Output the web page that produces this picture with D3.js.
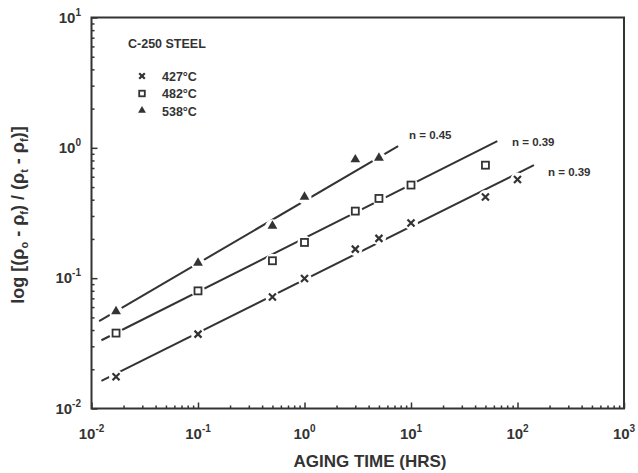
<!DOCTYPE html>
<html>
<head>
<meta charset="utf-8">
<script src="https://cdn.jsdelivr.net/npm/d3@7"></script>
<style>
  body { margin: 0; background: #fff; }
  svg text { font-family: "Liberation Sans", Arial, sans-serif; font-weight: bold; fill: #333; }
</style>
</head>
<body>
<svg id="chart" width="638" height="473"></svg>
<script>
// aging data
const times427 = [0.017, 0.1, 0.5, 1, 3, 5, 10, 50, 100];
const vals427 = [0.0175, 0.0372, 0.0718, 0.0995, 0.167, 0.202, 0.265, 0.42, 0.571];
const times482 = [0.017, 0.1, 0.5, 1, 3, 5, 10, 50];
const vals482 = [0.0379, 0.0799, 0.136, 0.188, 0.327, 0.409, 0.518, 0.736];
const times538 = [0.017, 0.1, 0.5, 1, 3, 5];
const vals538 = [0.055, 0.130, 0.25, 0.416, 0.806, 0.83];

// fitted lines (end points)
const fitTimes427 = [0.0124, 142.6];
const fitVals427 = [0.0163, 0.736];
const fitTimes482 = [0.0124, 64.6];
const fitVals482 = [0.0334, 1.125];
const fitTimes538 = [0.0118, 7.57];
const fitVals538 = [0.0468, 1.03];

const seriesNames = ["427°C", "482°C", "538°C"];
const slopeLabels = ["n = 0.39", "n = 0.39", "n = 0.45"];

const xTicks = [0.01, 0.1, 1, 10, 100, 1000];
const yTicks = [0.01, 0.1, 1, 10];

const ink = "#333";
const svg = d3.select("#chart");

const x = d3.scaleLog().domain([0.01, 1000]).range([91.5, 624]);
const y = d3.scaleLog().domain([0.01, 10]).range([408.5, 17.5]);

// minor ticks 2..9 per decade
function minors(lo, hi) {
    let out = [];
    for (let e = lo; e < hi; e++) {
        for (let k = 2; k <= 9; k++) out.push(k * Math.pow(10, e));
    }
    return out;
}

// frame
svg.append("rect")
    .attr("x", x(0.01)).attr("y", y(10))
    .attr("width", x(1000) - x(0.01))
    .attr("height", y(0.01) - y(10))
    .attr("fill", "none").attr("stroke", ink).attr("stroke-width", 2);

// axes (inside ticks)
const xMinor = svg.append("g").attr("transform", `translate(0,${y(0.01)})`)
    .call(d3.axisBottom(x).tickValues(minors(-2, 3)).tickSize(-3).tickFormat(""));
const xMajor = svg.append("g").attr("transform", `translate(0,${y(0.01)})`)
    .call(d3.axisBottom(x).tickValues(xTicks).tickSize(-6).tickFormat(""));
const yMinor = svg.append("g").attr("transform", `translate(${x(0.01)},0)`)
    .call(d3.axisLeft(y).tickValues(minors(-2, 1)).tickSize(-3).tickFormat(""));
const yMajor = svg.append("g").attr("transform", `translate(${x(0.01)},0)`)
    .call(d3.axisLeft(y).tickValues(yTicks).tickSize(-6).tickFormat(""));

[xMinor, xMajor, yMinor, yMajor].forEach(g => {
    g.select(".domain").remove();
    g.selectAll("line").attr("stroke", ink).attr("stroke-width", 1.5);
});

// power-of-ten labels
function powLabel(sel, v) {
    const e = Math.round(Math.log10(v));
    sel.append("tspan").text("10");
    sel.append("tspan").attr("dy", -7).attr("font-size", 10).text(e < 0 ? "-" + (-e) : e);
}

xTicks.forEach(v => {
    const t = svg.append("text")
        .attr("x", x(v)).attr("y", 439)
        .attr("text-anchor", "middle").attr("font-size", 15);
    powLabel(t, v);
});
yTicks.forEach(v => {
    const t = svg.append("text")
        .attr("x", 81).attr("y", y(v) + 5)
        .attr("text-anchor", "end").attr("font-size", 15);
    powLabel(t, v);
});

// axis titles
svg.append("text")
    .attr("x", 370).attr("y", 467)
    .attr("text-anchor", "middle").attr("font-size", 17)
    .text("AGING TIME (HRS)");

const yt = svg.append("text")
    .attr("transform", "translate(24,215) rotate(-90)")
    .attr("text-anchor", "middle").attr("font-size", 18);
yt.append("tspan").text("log [(ρ");
yt.append("tspan").attr("font-size", 11).attr("dy", 4).text("o");
yt.append("tspan").attr("dy", -4).text(" - ρ");
yt.append("tspan").attr("font-size", 11).attr("dy", 4).text("f");
yt.append("tspan").attr("dy", -4).text(") / (ρ");
yt.append("tspan").attr("font-size", 11).attr("dy", 4).text("t");
yt.append("tspan").attr("dy", -4).text(" - ρ");
yt.append("tspan").attr("font-size", 11).attr("dy", 4).text("f");
yt.append("tspan").attr("dy", -4).text(")]");

// fitted lines
const fits = [
    [fitTimes427, fitVals427],
    [fitTimes482, fitVals482],
    [fitTimes538, fitVals538]
];
const line = d3.line().x(d => x(d[0])).y(d => y(d[1]));
fits.forEach(f => {
    svg.append("path")
        .attr("d", line(d3.zip(f[0], f[1])))
        .attr("fill", "none").attr("stroke", ink).attr("stroke-width", 2);
});

// markers
function drawMarker(g, kind, cx, cy, s) {
    if (kind === 0) {
        g.append("path")
            .attr("d", `M${cx - s},${cy - s}L${cx + s},${cy + s}M${cx - s},${cy + s}L${cx + s},${cy - s}`)
            .attr("stroke", ink).attr("stroke-width", 2.2);
    } else if (kind === 1) {
        g.append("rect")
            .attr("x", cx - s).attr("y", cy - s).attr("width", 2 * s).attr("height", 2 * s)
            .attr("fill", "#fff").attr("stroke", ink).attr("stroke-width", 1.8);
    } else {
        g.append("path")
            .attr("d", d3.symbol(d3.symbolTriangle, s * s * 3.4)())
            .attr("transform", `translate(${cx},${cy - 0.5})`)
            .attr("fill", ink);
    }
}

const series = [
    [times427, vals427],
    [times482, vals482],
    [times538, vals538]
];
const pts = svg.append("g");
series.forEach((s, i) => {
    d3.zip(s[0], s[1]).forEach(d => {
        pts.append("circle").attr("cx", x(d[0])).attr("cy", y(d[1])).attr("r", 7).attr("fill", "#fff");
        drawMarker(pts, i, x(d[0]), y(d[1]), 3.5);
    });
});

// slope labels
const slopePos = [[548, 176], [512, 146], [409, 139]];
slopeLabels.forEach((s, i) => {
    svg.append("text")
        .attr("x", slopePos[i][0]).attr("y", slopePos[i][1])
        .attr("font-size", 11.5).text(s);
});

// legend
svg.append("text").attr("x", 128).attr("y", 48).attr("font-size", 12.5).text("C-250 STEEL");
seriesNames.forEach((s, i) => {
    const ly = 76 + i * 17.5;
    drawMarker(svg, i, 142, ly, 2.8);
    svg.append("text").attr("x", 162).attr("y", ly + 4.5).attr("font-size", 12.5).text(s);
});
</script>
</body>
</html>
